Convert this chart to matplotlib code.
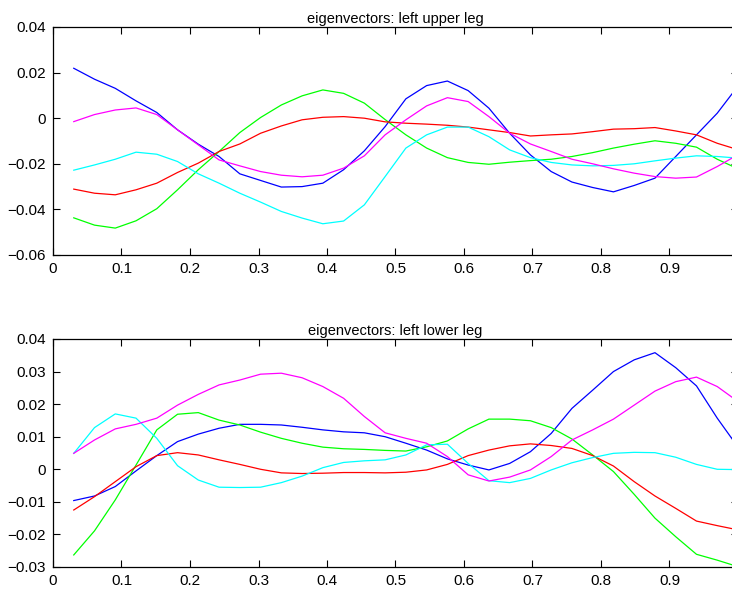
import numpy as np
import matplotlib
matplotlib.use('Agg')
import matplotlib.pyplot as plt

plt.rcParams['font.family'] = ['Liberation Sans', 'DejaVu Sans']

# sample positions (33 frames of the normalised gait cycle)
x = np.arange(1, 34) / 33.0

# left upper leg eigenvectors
upper_blue = [0.0219, 0.0171, 0.0131, 0.0076, 0.0025, -0.0051, -0.0114, -0.0168, -0.0244, -0.0273, -0.0302,
              -0.0300, -0.0285, -0.0226, -0.0143, -0.0037, 0.0085, 0.0143, 0.0163, 0.0121, 0.0044, -0.0066,
              -0.0161, -0.0234, -0.0280, -0.0304, -0.0323, -0.0295, -0.0263, -0.0168, -0.0073, 0.0022, 0.0141]
upper_green = [-0.0437, -0.0469, -0.0482, -0.0450, -0.0397, -0.0314, -0.0226, -0.0146, -0.0063, 0.0003, 0.0058,
               0.0098, 0.0124, 0.0109, 0.0066, -0.0006, -0.0073, -0.0131, -0.0173, -0.0194, -0.0202, -0.0193,
               -0.0186, -0.0180, -0.0168, -0.0151, -0.0131, -0.0114, -0.0099, -0.0110, -0.0127, -0.0180, -0.0222]
upper_red = [-0.0311, -0.0329, -0.0336, -0.0314, -0.0285, -0.0238, -0.0197, -0.0146, -0.0113, -0.0066, -0.0034,
             -0.0007, 0.0004, 0.0007, 0.0000, -0.0016, -0.0022, -0.0026, -0.0031, -0.0039, -0.0051, -0.0063,
             -0.0078, -0.0073, -0.0069, -0.0059, -0.0048, -0.0046, -0.0041, -0.0056, -0.0073, -0.0110, -0.0138]
upper_cyan = [-0.0228, -0.0205, -0.0180, -0.0149, -0.0158, -0.0190, -0.0244, -0.0285, -0.0329, -0.0368, -0.0409,
              -0.0438, -0.0463, -0.0451, -0.0380, -0.0256, -0.0131, -0.0073, -0.0039, -0.0039, -0.0081, -0.0139,
              -0.0173, -0.0194, -0.0205, -0.0209, -0.0207, -0.0200, -0.0187, -0.0175, -0.0165, -0.0168, -0.0175]
upper_magenta = [-0.0015, 0.0016, 0.0036, 0.0045, 0.0016, -0.0051, -0.0117, -0.0183, -0.0209, -0.0234, -0.0250,
                 -0.0257, -0.0250, -0.0219, -0.0165, -0.0073, -0.0007, 0.0054, 0.0090, 0.0073, 0.0007, -0.0066,
                 -0.0113, -0.0146, -0.0180, -0.0200, -0.0222, -0.0241, -0.0256, -0.0263, -0.0258, -0.0212, -0.0160]

# left lower leg eigenvectors
lower_blue = [-0.0096, -0.0082, -0.0053, -0.0005, 0.0042, 0.0085, 0.0108, 0.0126, 0.0138, 0.0138, 0.0136,
              0.0129, 0.0121, 0.0115, 0.0112, 0.0100, 0.0080, 0.0059, 0.0032, 0.0013, -0.0002, 0.0018,
              0.0054, 0.0110, 0.0187, 0.0243, 0.0300, 0.0336, 0.0358, 0.0312, 0.0256, 0.0157, 0.0068]
lower_green = [-0.0263, -0.0189, -0.0094, 0.0013, 0.0121, 0.0169, 0.0174, 0.0151, 0.0136, 0.0114, 0.0095,
               0.0080, 0.0068, 0.0063, 0.0061, 0.0058, 0.0056, 0.0069, 0.0087, 0.0124, 0.0154, 0.0154,
               0.0149, 0.0128, 0.0093, 0.0044, -0.0007, -0.0077, -0.0150, -0.0207, -0.0261, -0.0279, -0.0299]
lower_red = [-0.0125, -0.0084, -0.0038, 0.0008, 0.0042, 0.0051, 0.0044, 0.0029, 0.0015, 0.0000, -0.0011,
             -0.0013, -0.0012, -0.0010, -0.0010, -0.0011, -0.0009, -0.0002, 0.0015, 0.0042, 0.0059, 0.0072,
             0.0078, 0.0073, 0.0064, 0.0042, 0.0010, -0.0038, -0.0082, -0.0120, -0.0159, -0.0173, -0.0186]
lower_cyan = [0.0049, 0.0128, 0.0170, 0.0157, 0.0095, 0.0011, -0.0033, -0.0055, -0.0056, -0.0055, -0.0041,
              -0.0021, 0.0005, 0.0021, 0.0026, 0.0029, 0.0044, 0.0075, 0.0077, 0.0018, -0.0035, -0.0041,
              -0.0028, -0.0002, 0.0020, 0.0036, 0.0049, 0.0052, 0.0051, 0.0037, 0.0015, 0.0000, -0.0001]
lower_magenta = [0.0049, 0.0090, 0.0124, 0.0138, 0.0157, 0.0197, 0.0230, 0.0259, 0.0274, 0.0292, 0.0295,
                 0.0281, 0.0254, 0.0218, 0.0162, 0.0112, 0.0095, 0.0080, 0.0039, -0.0017, -0.0036, -0.0024,
                 -0.0002, 0.0039, 0.0090, 0.0121, 0.0154, 0.0197, 0.0240, 0.0269, 0.0283, 0.0254, 0.0208]

colors = ['#0000ff', '#00ff00', '#ff0000', '#00ffff', '#ff00ff']

xticks = [0, 0.1, 0.2, 0.3, 0.4, 0.5, 0.6, 0.7, 0.8, 0.9, 1.0]
xticklabels = ['0', '0.1', '0.2', '0.3', '0.4', '0.5', '0.6', '0.7', '0.8', '0.9', '']
upper_yticks = [-0.06, -0.04, -0.02, 0, 0.02, 0.04]
upper_yticklabels = ['\u22120.06', '\u22120.04', '\u22120.02', '0', '0.02', '0.04']
lower_yticks = [-0.03, -0.02, -0.01, 0, 0.01, 0.02, 0.03, 0.04]
lower_yticklabels = ['\u22120.03', '\u22120.02', '\u22120.01', '0', '0.01', '0.02', '0.03', '0.04']

W, H = 732, 590
fig = plt.figure(figsize=(W / 100, H / 100), dpi=100)

# axes boxes in pixels: left, top, right, bottom (right spine falls just off the canvas)
def px_axes(l, t, r, b):
    return fig.add_axes([l / W, 1 - b / H, (r - l) / W, (b - t) / H])

ax1 = px_axes(53, 27, 738, 255)
ax2 = px_axes(53, 339, 738, 567)

panels = [
    (ax1, [upper_blue, upper_green, upper_red, upper_cyan, upper_magenta],
     'eigenvectors: left upper leg', (-0.06, 0.04), upper_yticks, upper_yticklabels),
    (ax2, [lower_blue, lower_green, lower_red, lower_cyan, lower_magenta],
     'eigenvectors: left lower leg', (-0.03, 0.04), lower_yticks, lower_yticklabels),
]

for ax, series, title, ylim, yt, ytl in panels:
    for vals, c in zip(series, colors):
        ax.plot(x, vals, color=c, lw=0.9)
    ax.set_xlim(0, 1)
    ax.set_ylim(*ylim)
    ax.set_xticks(xticks)
    ax.set_xticklabels(xticklabels)
    ax.set_yticks(yt)
    ax.set_yticklabels(ytl)
    ax.tick_params(direction='in', length=5, width=0.8, top=True, right=True,
                   labelsize=11, pad=5, colors='black')
    for s in ax.spines.values():
        s.set_linewidth(0.9)
    ax.set_title(title, fontsize=10.5, pad=3)

fig.savefig('out.png', dpi=100)
